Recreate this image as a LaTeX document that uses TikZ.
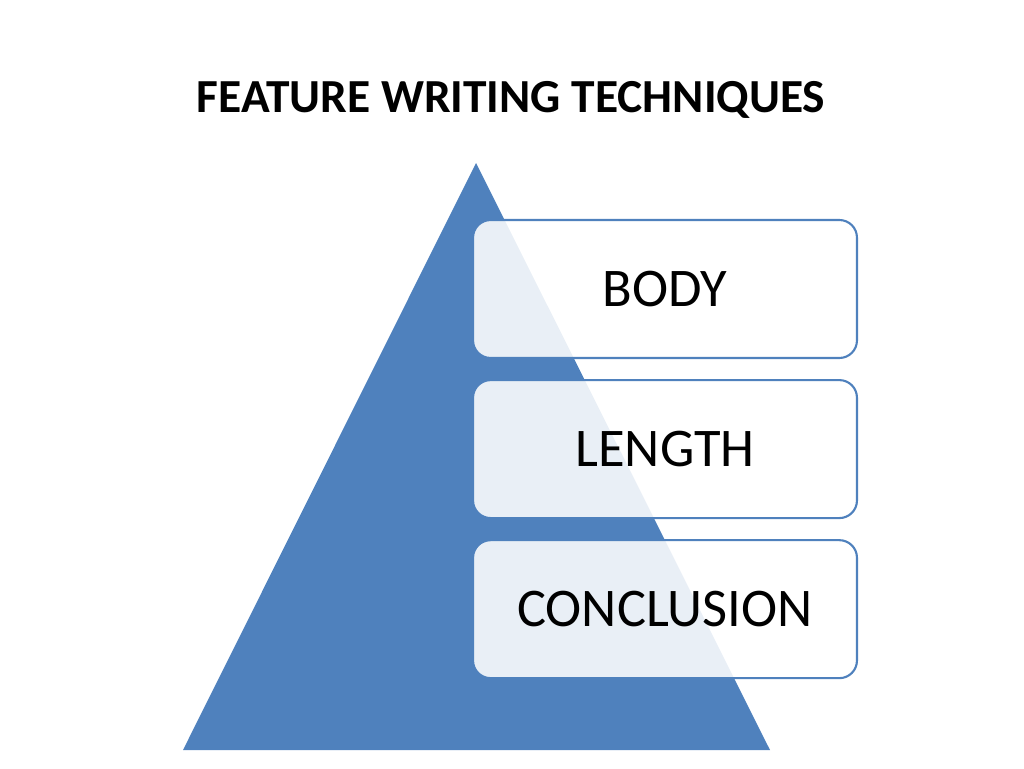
\documentclass[tikz,border=0pt]{standalone}
\usepackage{fontspec}
\setmainfont{Carlito}
\usepackage{tikz}
\usetikzlibrary{positioning}
\definecolor{pyrBlue}{HTML}{4F81BD}
\definecolor{pyrText}{HTML}{000000}

\begin{document}
\begin{tikzpicture}[x=0.02cm,y=-0.02cm,
  item/.style={draw=pyrBlue, line width=1.2pt, fill=white, fill opacity=0.88,
    text opacity=1, rounded corners=10pt, minimum width=7.68cm,
    minimum height=2.76cm, font=\fontsize{31}{36}\selectfont, text=pyrText},
  title/.style={font=\bfseries\fontsize{27}{32}\selectfont}
]
  \useasboundingbox (0,0) rectangle (1024,768);
  % Title
  \node[title] (head) at (511,100) {FEATURE WRITING TECHNIQUES};

  % Pyramid
  \coordinate (apex) at (476,163);
  \coordinate (baseL) at (183,750);
  \coordinate (baseR) at (770,750);
  \fill[pyrBlue] (apex) -- (baseR) -- (baseL) -- cycle;

  % Levels
  \node[item] (body) at (665,289) {BODY};
  \node[item, below=0.4cm of body] (length) {LENGTH};
  \node[item, below=0.4cm of length] (concl) {CONCLUSION};
\end{tikzpicture}
\end{document}
